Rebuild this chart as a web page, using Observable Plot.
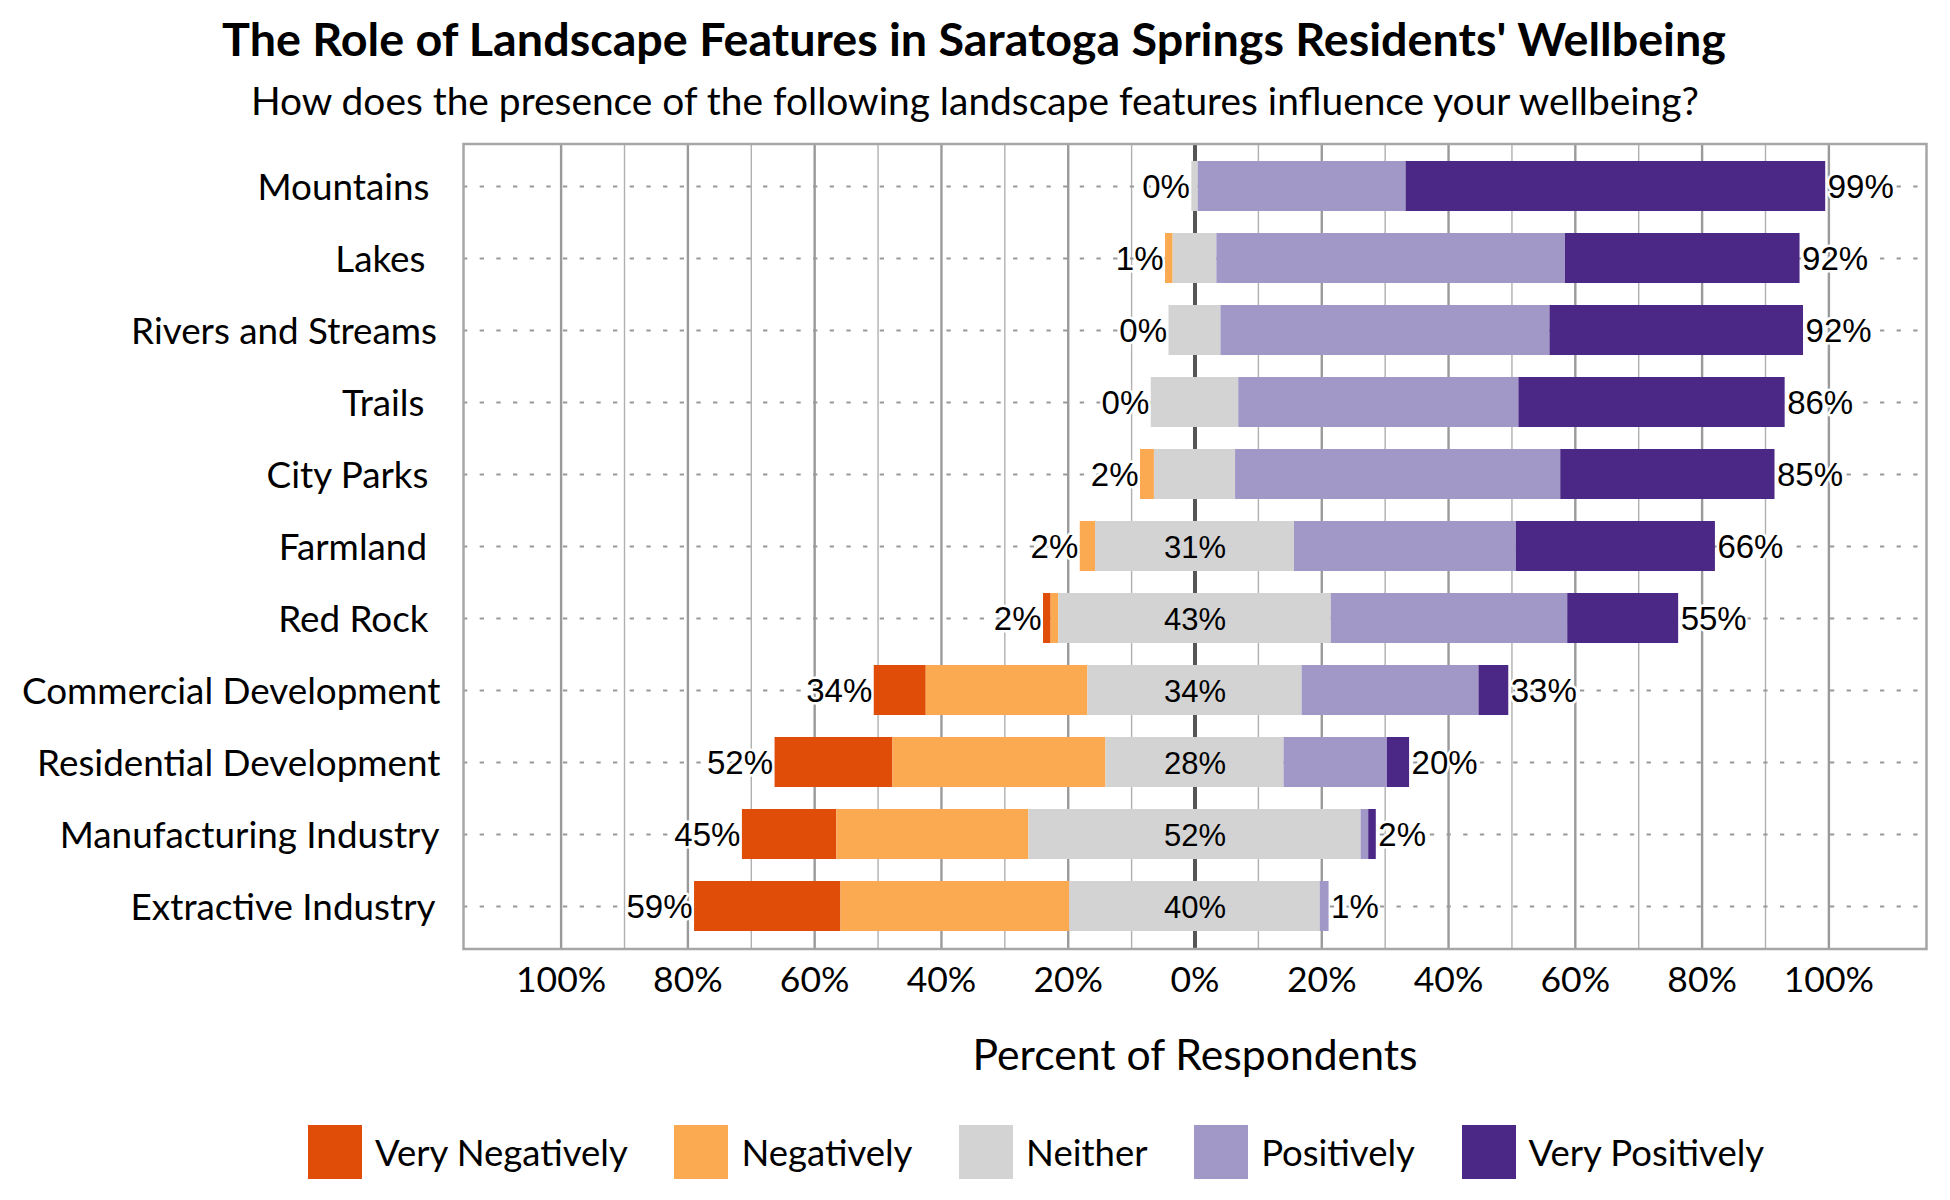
<!DOCTYPE html>
<html>
<head>
<meta charset="utf-8">
<script src="https://cdn.jsdelivr.net/npm/d3@7"></script>
<script src="https://cdn.jsdelivr.net/npm/@observablehq/plot@0.6"></script>
<style>
html,body{margin:0;padding:0;background:#fff;width:1950px;height:1200px;overflow:hidden;font-family:Lato,sans-serif;color:#000}
#title{position:absolute;left:0;top:8px;width:1948px;text-align:center;font-weight:700;font-size:46.7px;line-height:60px}
#subtitle{position:absolute;left:0;top:75px;width:1950px;text-align:center;font-size:38.9px;line-height:50px}
#chart{position:absolute;left:0;top:125px}
#legend{position:absolute;left:308px;top:1125px;display:flex;height:54px;align-items:center;font-size:36.5px}
#legend .sw{width:54px;height:54px;margin-right:13px}
#legend .it{display:flex;align-items:center;margin-right:46.7px}
</style>
</head>
<body>
<div id="title"></div>
<div id="subtitle"></div>
<div id="chart"></div>
<div id="legend"></div>
<script>
const titleText = "The Role of Landscape Features in Saratoga Springs Residents' Wellbeing";
const subtitleText = "How does the presence of the following landscape features influence your wellbeing?";
const axisLabel = "Percent of Respondents";

const features = ["Mountains","Lakes","Rivers and Streams","Trails","City Parks","Farmland","Red Rock","Commercial Development","Residential Development","Manufacturing Industry","Extractive Industry"];
const responses = ["Very Negatively","Negatively","Neither","Positively","Very Positively"];
const colors = ["#e04d08","#fcaa52","#d3d3d3","#a198c8","#4b2885"];

const veryNegative = [0,0,0,0,0,0,1.2,8.2,18.6,14.9,23.1];
const negative     = [0,1.2,0,0,2.2,2.4,1.2,25.5,33.6,30.3,36.1];
const neither      = [1,6.9,8.2,13.8,12.8,31.4,43,33.8,28.1,52.4,39.5];
const positive     = [32.8,55,51.9,44.2,51.3,35,37.3,27.9,16.3,1.2,1.4];
const veryPositive = [66.2,37.0,40.0,42,33.8,31.4,17.5,4.7,3.5,1.2,0];

const leftLabels  = [0,1,0,0,2,2,2,34,52,45,59];
const midLabels   = [null,null,null,null,null,31,43,34,28,52,40];
const rightLabels = [99,92,92,86,85,66,55,33,20,2,1];

const majorTicks = [-100,-80,-60,-40,-20,20,40,60,80,100];
const minorTicks = [-90,-70,-50,-30,-10,10,30,50,70,90];
const tickLabels = [-100,-80,-60,-40,-20,0,20,40,60,80,100];

// right-edge offset of each row label from the frame
const labelInset = [34,38,26.5,39,35,36.5,35,23,23,24,28];

const series = [veryNegative,negative,neither,positive,veryPositive];
const segments = [], ends = [];
features.forEach((f,i)=>{
  let x = -(veryNegative[i]+negative[i]+neither[i]/2);
  const start = x;
  series.forEach((s,k)=>{
    if(s[i]>0) segments.push({feature:f,response:responses[k],x1:x,x2:x+s[i]});
    x += s[i];
  });
  ends.push({feature:f,start,end:x,left:leftLabels[i]+"%",right:rightLabels[i]+"%",mid:midLabels[i]==null?null:midLabels[i]+"%"});
});

const DATA_FONT = "'Liberation Sans',Arial,sans-serif";
const plot = Plot.plot({
  width:1950, height:955,
  marginLeft:463, marginRight:24, marginTop:18.5, marginBottom:131.5,
  style:{background:"transparent",fontFamily:"Lato,sans-serif",overflow:"visible"},
  x:{domain:[-115.4,115.4]},
  y:{domain:features,paddingInner:0.307,paddingOuter:0.243},
  color:{domain:responses,range:colors},
  marks:[
    Plot.ruleX(minorTicks,{stroke:"#b0b0b0",strokeWidth:1.4}),
    Plot.ruleX(majorTicks,{stroke:"#9a9a9a",strokeWidth:2.4}),
    Plot.ruleY(features,{y:d=>d,stroke:"#999",strokeWidth:1.8,strokeDasharray:"4.3 12.37"}),
    Plot.ruleX([0],{stroke:"#555",strokeWidth:4}),
    Plot.frame({stroke:"#a6a6a6",strokeWidth:2.5}),
    Plot.text(ends,{x:"start",y:"feature",text:"left",textAnchor:"end",dx:-2,dy:1,fontSize:33,fontFamily:DATA_FONT,fill:"#000",stroke:"#fff",strokeWidth:5,paintOrder:"stroke"}),
    Plot.text(ends,{x:"end",y:"feature",text:"right",textAnchor:"start",dx:2,dy:1,fontSize:33,fontFamily:DATA_FONT,fill:"#000",stroke:"#fff",strokeWidth:5,paintOrder:"stroke"}),
    Plot.barX(segments,{x1:"x1",x2:"x2",y:"feature",fill:"response"}),
    Plot.text(ends.filter(d=>d.mid),{x:()=>0,y:"feature",text:"mid",textAnchor:"middle",dy:1.5,fontSize:31,fontFamily:DATA_FONT,fill:"#000"}),
    ...features.map((f,i)=>Plot.text([f],{y:d=>d,text:d=>d,frameAnchor:"left",textAnchor:"end",dx:-labelInset[i],dy:1.5,fontSize:36.8,fill:"#000"})),
    Plot.axisX(tickLabels,{tickSize:0,tickPadding:18,fontSize:35.5,tickFormat:d=>Math.abs(d)+"%"}),
    Plot.axisX([],{tickSize:0,fontSize:42.7,label:axisLabel,labelAnchor:"center",labelArrow:"none",labelOffset:120.5}),
    Plot.axisY({ticks:[],label:null,tickSize:0})
  ]
});
document.getElementById("title").textContent = titleText;
document.getElementById("subtitle").textContent = subtitleText;
document.getElementById("chart").append(plot);
const lg = document.getElementById("legend");
responses.forEach((r,i)=>{
  const it = document.createElement("div"); it.className="it";
  const sw = document.createElement("div"); sw.className="sw"; sw.style.background=colors[i];
  const tx = document.createElement("span"); tx.textContent=r;
  it.append(sw,tx); lg.append(it);
});
</script>
</body>
</html>
